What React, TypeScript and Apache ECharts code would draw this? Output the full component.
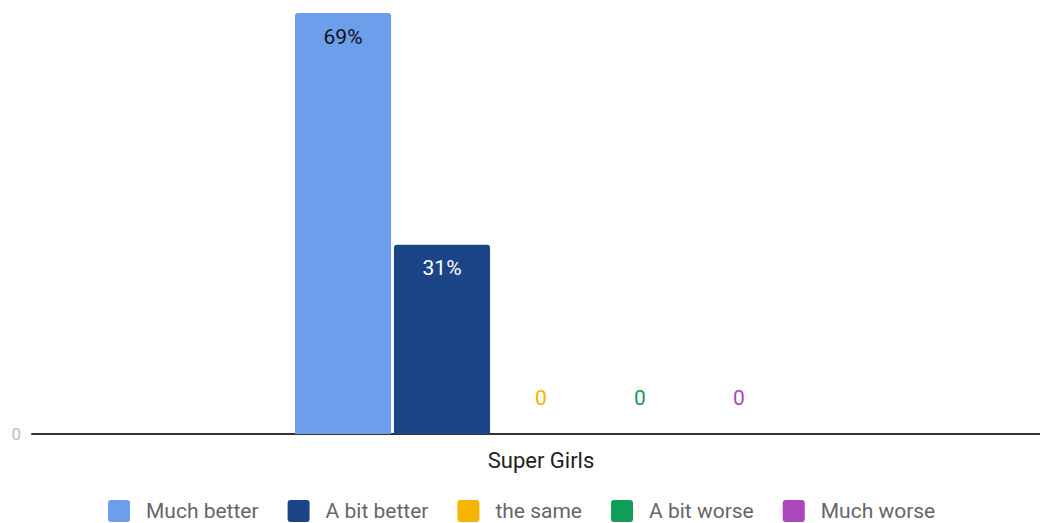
import React, { useEffect, useRef } from "react";
import * as echarts from "echarts";

const categories = ["Super Girls"];
const seriesNames = ["Much better", "A bit better", "the same", "A bit worse", "Much worse"];
const seriesValues = [[69], [31], [0], [0], [0]];
const seriesColors = ["#6d9eeb", "#1c4587", "#f4b400", "#0f9d58", "#ab47bc"];
const labelColors = ["#111111", "#ffffff", "#f4b400", "#0f9d58", "#ab47bc"];
const yTicks = [0];
const yMax = 69;

const legendIcon =
  "path://M3,0 H19 A3,3 0 0 1 22,3 V19 A3,3 0 0 1 19,22 H3 A3,3 0 0 1 0,19 V3 A3,3 0 0 1 3,0 Z";

export default function App() {
  const ref = useRef<HTMLDivElement>(null);

  useEffect(() => {
    if (!ref.current) return;
    const chart = echarts.init(ref.current, null, { renderer: "svg" });
    const font = "Roboto, 'Noto Sans', sans-serif";

    const series = seriesNames.map((name, i) => ({
      name,
      type: "bar",
      xAxisIndex: 1,
      yAxisIndex: 1,
      data: seriesValues[i],
      barGap: "3%",
      barCategoryGap: "50.7%",
      itemStyle: { color: seriesColors[i], borderRadius: [3, 3, 0, 0] },
      label: {
        show: true,
        position: seriesValues[i][0] > 0 ? "insideTop" : "top",
        distance: seriesValues[i][0] > 0 ? 13 : 26,
        color: labelColors[i],
        fontSize: 21,
        fontFamily: font,
        formatter: (p: any) => (p.value > 0 ? `${p.value}%` : `${p.value}`),
      },
    }));

    chart.setOption({
      animation: false,
      textStyle: { fontFamily: font },
      // grid 0 carries the baseline and the "0" tick; grid 1 carries the bars
      grid: [
        { left: 32, right: 0, top: 13, height: 421, containLabel: false },
        { left: 42, right: 0, top: 13, height: 421, containLabel: false },
      ],
      legend: {
        data: seriesNames,
        bottom: -4,
        left: 103,
        icon: legendIcon,
        itemWidth: 22,
        itemHeight: 22,
        itemGap: 29,
        textStyle: { fontSize: 21, color: "#666666", fontFamily: font, padding: [0, 0, 0, 11] },
      },
      xAxis: [
        {
          type: "category",
          gridIndex: 0,
          data: categories,
          axisLine: { lineStyle: { color: "#333333", width: 2 } },
          axisTick: { show: false },
          axisLabel: { show: false },
        },
        {
          type: "category",
          gridIndex: 1,
          data: categories,
          axisLine: { show: false },
          axisTick: { show: false },
          axisLabel: { fontSize: 22, color: "#222222", margin: 15, fontFamily: font },
          z: 3,
        },
      ],
      yAxis: [
        {
          type: "value",
          gridIndex: 0,
          min: 0,
          max: yMax,
          interval: yMax,
          splitLine: { show: false },
          axisLine: { show: false },
          axisTick: { show: false },
          axisLabel: {
            fontSize: 17,
            color: "#bdbdbd",
            margin: 11,
            fontFamily: font,
            formatter: (v: number) => (yTicks.includes(v) ? String(v) : ""),
          },
        },
        {
          type: "value",
          gridIndex: 1,
          min: 0,
          max: yMax,
          interval: yMax,
          splitLine: { show: false },
          axisLine: { show: false },
          axisTick: { show: false },
          axisLabel: { show: false },
        },
      ],
      series,
    });

    return () => chart.dispose();
  }, []);

  return (
    <div
      ref={ref}
      style={{ position: "fixed", left: 0, top: 0, width: 1040, height: 523, background: "#ffffff" }}
    />
  );
}
